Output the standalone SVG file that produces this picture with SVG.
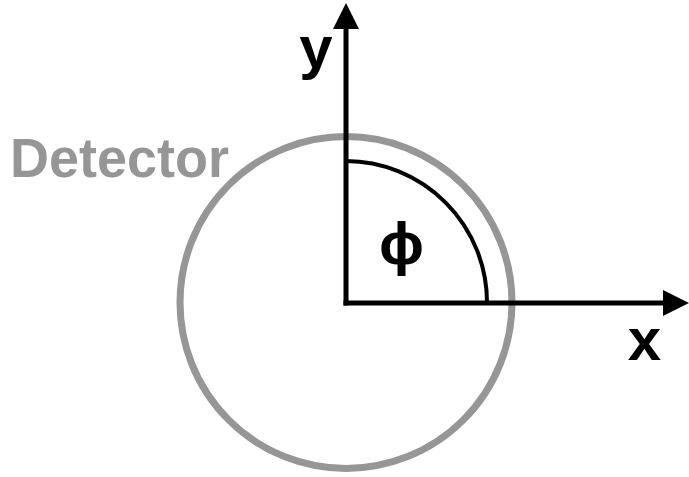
<svg xmlns="http://www.w3.org/2000/svg" width="689" height="477" viewBox="0 0 689 477">
<style>
.lbl{font-family:"Liberation Sans",Arial,sans-serif;font-weight:bold;fill:#000}
.gray{fill:#969696}
.axis{stroke:#000;stroke-width:5;fill:none}
</style>
<defs>
<marker id="ah" markerWidth="26" markerHeight="26" refX="0" refY="13" orient="auto" markerUnits="userSpaceOnUse" viewBox="0 0 26 26">
<path d="M0,0 L26,13 L0,26 Z" fill="#000"/>
</marker>
</defs>
<rect width="689" height="477" fill="#fff"/>
<g id="detector">
<circle cx="346" cy="302.5" r="166" fill="none" stroke="#969696" stroke-width="7"/>
<text class="lbl gray" x="10" y="177" font-size="56" textLength="219" lengthAdjust="spacingAndGlyphs">Detector</text>
</g>
<g id="connectors">
<line class="axis" x1="346" y1="305.5" x2="346" y2="29" marker-end="url(#ah)"/>
<line class="axis" x1="343.5" y1="303" x2="663" y2="303" marker-end="url(#ah)"/>
</g>
<g id="angle">
<path d="M346,161 A141.5,141.5 0 0 1 487,303" fill="none" stroke="#000" stroke-width="4"/>
<text class="lbl" x="401.5" y="264" font-size="60" text-anchor="middle">ϕ</text>
</g>
<g id="labels">
<text class="lbl" x="316" y="68" font-size="60" text-anchor="middle">y</text>
<text class="lbl" x="644.5" y="360" font-size="60" text-anchor="middle">x</text>
</g>
</svg>
